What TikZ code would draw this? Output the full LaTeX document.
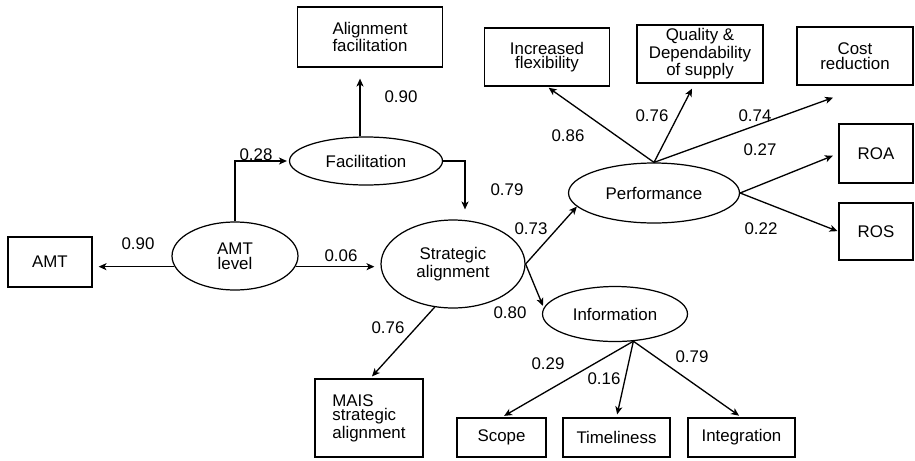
\documentclass[tikz,border=0pt]{standalone}
\usepackage{fontspec}
\setmainfont{Liberation Sans}
\usetikzlibrary{shapes.geometric,arrows.meta,calc}

\tikzset{
  box/.style={draw, rectangle, line width=0.7pt, inner sep=0pt, align=center},
  latent/.style={draw, ellipse, line width=0.7pt, inner sep=0pt, align=center},
  wt/.style={inner sep=0pt},
  arr/.style={-{Stealth[length=4.5pt,width=4pt,inset=1.2pt]}, line width=0.75pt},
}

\begin{document}
\begin{tikzpicture}[x=0.02cm, y=-0.02cm, font=\fontsize{9.6}{8.3}\selectfont]
  \useasboundingbox (0,0) rectangle (915,460);

  \node[box, minimum width=1.68cm, minimum height=1cm] (amt) at (50,262) {AMT};
  \node[latent, minimum width=2.52cm, minimum height=1.36cm] (amtlvl) at (235,256) {AMT\\level};
  \node[latent, minimum width=3.06cm, minimum height=0.96cm] (facil) at (366,161) {Facilitation};
  \node[box, minimum width=2.9cm, minimum height=1.2cm] (alfac) at (370,37) {Alignment\\facilitation};
  \node[latent, minimum width=2.88cm, minimum height=1.76cm] (strat) at (453,264) {Strategic\\alignment};
  \node[latent, minimum width=3.42cm, minimum height=1.2cm] (perf) at (654,193) {Performance};
  \node[latent, minimum width=2.9cm, minimum height=1.1cm] (info) at (615,314) {Information};

  \node[box, minimum width=2.5cm, minimum height=1.16cm] (flex) at (547,57) {Increased\\flexibility};
  \node[box, minimum width=2.52cm, minimum height=1.16cm] (qual) at (700,54) {Quality \&\\Dependability\\of supply};
  \node[box, minimum width=2.32cm, minimum height=1.16cm] (cost) at (855,56) {Cost\\reduction};
  \node[box, minimum width=1.48cm, minimum height=1.18cm] (roa) at (876,153.5) {ROA};
  \node[box, minimum width=1.48cm, minimum height=1.14cm] (ros) at (876,231.5) {ROS};

  \node[box, minimum width=2.16cm, minimum height=1.56cm, align=left] (mais) at (369,418) {MAIS\\strategic\\alignment};
  \node[box, minimum width=1.78cm, minimum height=0.78cm] (scope) at (501.5,437.5) {Scope};
  \node[box, minimum width=2.14cm, minimum height=0.78cm] (timel) at (616.5,437.5) {Timeliness};
  \node[box, minimum width=2.14cm, minimum height=0.78cm] (integ) at (741.5,437.5) {Integration};

  % AMT level
  \draw[arr, shorten >=0.12cm] (amtlvl.190) -- (amtlvl.190 -| amt.east);
  \draw[arr, shorten >=0.12cm] (amtlvl.350) -- (amtlvl.350 -| strat.west);
  \draw[arr, shorten >=0.04cm] (amtlvl.north) |- (facil.west);

  % facilitation
  \draw[arr, shorten >=0.2cm] (facil.east) -| ($(strat.north)+(12,0)$);
  \coordinate (fup) at ($(facil.north)+(-6,0)$);
  \draw[arr, shorten >=0.22cm] (fup) -- (fup |- alfac.south);

  % strategic alignment
  \draw[arr] (strat.east) -- (perf.190);
  \draw[arr, shorten >=0.04cm] (strat.east) -- (info.175);
  \draw[arr] (strat.247) -- ($(mais.north)+(3,-2)$);

  % performance
  \draw[arr, shorten >=0.04cm] (perf.north) -- (flex.south);
  \draw[arr] (perf.north) -- ($(qual.south)+(-8,5)$);
  \draw[arr] (perf.north) -- ($(cost.south)+(-22,12)$);
  \draw[arr, shorten >=0.12cm] (perf.east) -- (roa.west);
  \draw[arr, shorten >=0.02cm] (perf.east) -- (ros.west);

  % information
  \coordinate (ibot) at (info.304);
  \draw[arr, shorten >=0.06cm] (ibot) -- (scope.north);
  \draw[arr, shorten >=0.06cm] (ibot) -- (timel.north);
  \draw[arr, shorten >=0.06cm] (ibot) -- (integ.north);

  % weights
  \node[wt] (wamt) at (138,244) {0.90};
  \node[wt] (wfac) at (256,155) {0.28};
  \node[wt] (walf) at (401,97) {0.90};
  \node[wt] (wstr) at (507,190) {0.79};
  \node[wt] (wlvl) at (341,256) {0.06};
  \node[wt] (wprf) at (531,229) {0.73};
  \node[wt] (winf) at (510,313) {0.80};
  \node[wt] (wmai) at (388,328) {0.76};
  \node[wt] (wflx) at (568,136) {0.86};
  \node[wt] (wqul) at (652,116) {0.76};
  \node[wt] (wcst) at (755,116) {0.74};
  \node[wt] (wroa) at (760,150) {0.27};
  \node[wt] (wros) at (761,229) {0.22};
  \node[wt] (wscp) at (548,364) {0.29};
  \node[wt] (wtim) at (604,379) {0.16};
  \node[wt] (wint) at (692,357) {0.79};
\end{tikzpicture}
\end{document}
